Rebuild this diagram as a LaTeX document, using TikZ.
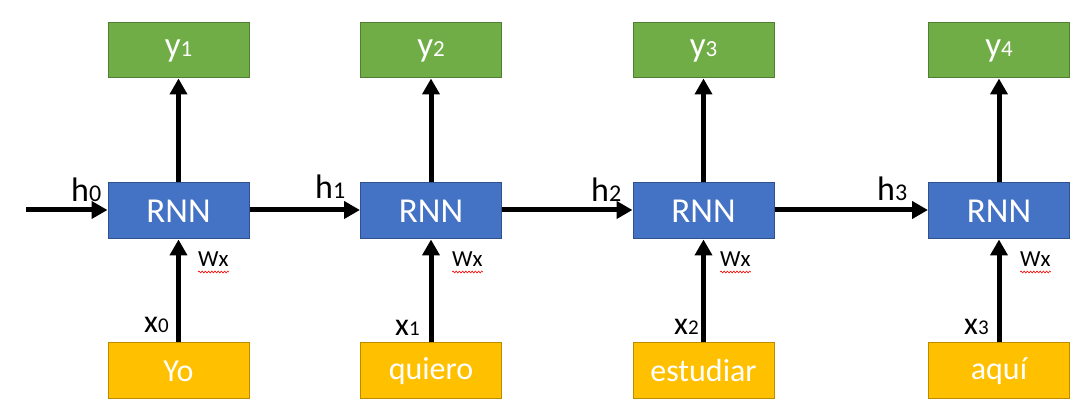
\documentclass[tikz,border=0pt]{standalone}
\usepackage{fontspec}
\setmainfont{Carlito}
\usetikzlibrary{arrows.meta,decorations.pathmorphing}
\definecolor{gfill}{HTML}{70AD47}
\definecolor{gdraw}{HTML}{507E32}
\definecolor{bfill}{HTML}{4472C4}
\definecolor{bdraw}{HTML}{2F528F}
\definecolor{yfill}{HTML}{FFC000}
\definecolor{ydraw}{HTML}{BC8C00}
\newcommand{\smallsub}[2]{{\fontsize{#1}{#1}\selectfont #2}}
\begin{document}
\begin{tikzpicture}[x=1pt,y=-1pt,
 box/.style={rectangle, minimum width=141pt, minimum height=55pt, line width=1pt, text=white, inner sep=0pt},
 outbox/.style={box, fill=gfill, draw=gdraw, font=\fontsize{35}{40}\selectfont},
 rnnbox/.style={box, fill=bfill, draw=bdraw, font=\fontsize{35}{40}\selectfont},
 inbox/.style={box, fill=yfill, draw=ydraw, font=\fontsize{32}{36}\selectfont},
 arr/.style={line width=5pt, -{Triangle[length=16pt,width=17pt]}},
 lbl/.style={anchor=base west, inner sep=0pt, text=black},
 hlbl/.style={lbl, font=\fontsize{34}{38}\selectfont},
 xlbl/.style={lbl, font=\fontsize{32}{36}\selectfont},
 wlbl/.style={lbl, font=\fontsize{23}{26}\selectfont},
 wavy/.style={draw=red, line width=0.6pt, decorate, decoration={snake, amplitude=0.9pt, segment length=3.2pt}}
]
\useasboundingbox (0,0) rectangle (1088,411);

% boxes
\foreach \i/\cx/\wt in {1/178.5/1, 2/431/2, 3/703.5/3, 4/999/4}{
  \node[outbox] (y\i) at (\cx,50.5) {y\smallsub{23}{\wt}};
  \node[rnnbox, minimum height=56pt] (r\i) at (\cx,211) {RNN};
}
\node[inbox, minimum height=56pt] (in1) at (178.5,371) {Yo};
\node[inbox, minimum height=56pt] (in2) at (431,371) {quiero};
\node[inbox, minimum height=56pt] (in3) at (703.5,371) {estudiar};
\node[inbox, minimum height=56pt] (in4) at (999,371) {aquí};

% arrows
\coordinate (start) at (26,210);
\draw[arr] (start) -- (r1.west |- start);
\foreach \a/\b in {1/2,2/3,3/4}{
  \draw[arr] (r\a.east |- start) -- (r\b.west |- start);
}
\foreach \i in {1,2,3,4}{
  \draw[arr] (in\i.north) -- (r\i.south);
  \draw[arr] (r\i.north) -- (y\i.south);
}

% h labels
\node[hlbl] (h0) at (71,202) {h\smallsub{24}{0}};
\node[hlbl] (h1) at (315,199) {h\smallsub{24}{1}};
\node[hlbl] (h2) at (591,202) {h\smallsub{24}{2}};
\node[hlbl] (h3) at (877,201) {h\smallsub{24}{3}};

% x labels
\node[xlbl] (x0) at (144,333) {x\smallsub{21}{0}};
\node[xlbl] (x1) at (395,336) {x\smallsub{21}{1}};
\node[xlbl] (x2) at (674,335) {x\smallsub{21}{2}};
\node[xlbl] (x3) at (964,335) {x\smallsub{21}{3}};

% Wx labels
\node[wlbl] (w1) at (198,267) {Wx};
\node[wlbl] (w2) at (452,267) {Wx};
\node[wlbl] (w3) at (720,267) {Wx};
\node[wlbl] (w4) at (1020,267) {Wx};
\foreach \i in {1,2,3,4}{
  \path[wavy] ([yshift=-5pt]w\i.base west) -- ([yshift=-5pt]w\i.base east);
}
\end{tikzpicture}
\end{document}
